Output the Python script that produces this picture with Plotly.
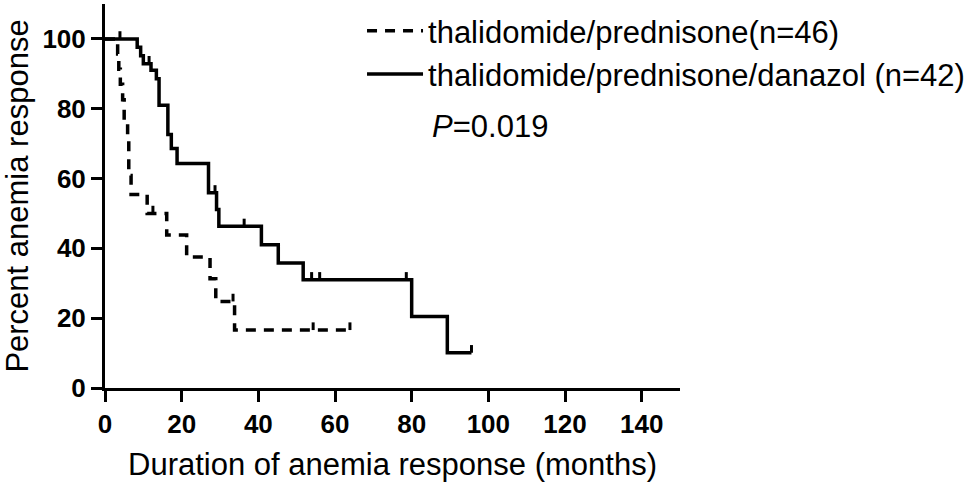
"""
Duration of anemia response (Kaplan-Meier)
==========================================
Thalidomide/prednisone vs thalidomide/prednisone/danazol.
"""

import plotly.graph_objects as go


# thalidomide/prednisone (n=46) - dashed
TP_TIMES = [0, 3.3, 3.6, 4.0, 4.6, 5.0, 5.9, 6.2, 6.8, 11.0, 16.1, 21.3, 27.4, 28.9, 33.8, 63.9]
TP_SURV = [100, 95.7, 91.3, 87.0, 82.6, 76.1, 71.7, 60.9, 55.4, 50.0, 43.8, 37.5, 31.3, 24.8, 16.6, 16.6]
TP_CENSOR = [12.5, 33.4, 54.3, 63.9]

# thalidomide/prednisone/danazol (n=42) - solid
TPD_TIMES = [0, 8.4, 9.3, 10.0, 12.0, 13.4, 14.1, 16.4, 17.3, 18.8, 27.0, 29.1, 29.7,
             40.8, 45.2, 51.7, 80.0, 89.3, 95.6]
TPD_SURV = [100, 97.6, 95.2, 92.9, 91.0, 88.6, 81.0, 72.6, 68.6, 64.3, 55.9, 51.1, 46.3,
            41.0, 35.8, 31.0, 20.5, 10.1, 10.1]
TPD_CENSOR = [3.9, 11.5, 28.7, 36.3, 53.9, 56.0, 78.6, 95.6]

X_TICKS = [0, 20, 40, 60, 80, 100, 120, 140]
Y_TICKS = [0, 20, 40, 60, 80, 100]

FONT = "Liberation Sans"


def surv_at(t, times, surv):
    """Step-function value of the curve at time t."""
    value = surv[0]
    for ti, si in zip(times, surv):
        if ti <= t:
            value = si
    return value


def censor_trace(censor, times, surv):
    """Small upward tick marks at censored observations."""
    levels = [surv_at(t, times, surv) for t in censor]
    return go.Scatter(
        x=censor,
        y=levels,
        mode="markers",
        marker=dict(size=1, opacity=0),
        error_y=dict(
            type="data", symmetric=False,
            array=[2.2] * len(censor), arrayminus=[0] * len(censor),
            width=0, thickness=3, color="black",
        ),
        showlegend=False,
        hoverinfo="skip",
    )


fig = go.Figure()

fig.add_trace(go.Scatter(
    x=TP_TIMES, y=TP_SURV, mode="lines", line_shape="hv",
    line=dict(color="black", width=3.5, dash="10px,8px"),
    name="thalidomide/prednisone(n=46)",
))
fig.add_trace(censor_trace(TP_CENSOR, TP_TIMES, TP_SURV))

fig.add_trace(go.Scatter(
    x=TPD_TIMES, y=TPD_SURV, mode="lines", line_shape="hv",
    line=dict(color="black", width=3.5),
    name="thalidomide/prednisone/danazol (n=42)",
))
fig.add_trace(censor_trace(TPD_CENSOR, TPD_TIMES, TPD_SURV))

axis_common = dict(
    showline=True, linecolor="black", linewidth=3,
    ticks="outside", ticklen=11, tickwidth=3, tickcolor="black",
    showgrid=False, zeroline=False,
    tickfont=dict(family=FONT, size=26, color="black", weight="bold"),
    title_font=dict(family=FONT, size=31, color="black"),
    automargin=False,
)

fig.update_xaxes(
    range=[0, 150], tickvals=X_TICKS,
    title_text="Duration of anemia response (months)", title_standoff=16,
    **axis_common,
)
fig.update_yaxes(
    range=[0, 110], tickvals=Y_TICKS,
    title_text="Percent anemia response", title_standoff=14,
    **axis_common,
)

fig.add_annotation(
    text="<i>P</i>=0.019", xref="paper", yref="paper",
    x=0.565, y=0.68, xanchor="left", yanchor="middle", showarrow=False,
    font=dict(family=FONT, size=31, color="black"),
)

fig.update_layout(
    width=976, height=482,
    margin=dict(l=105, r=296, t=4, b=94),
    plot_bgcolor="white",
    paper_bgcolor="white",
    font=dict(family=FONT, color="black"),
    legend=dict(
        x=0.447, y=1.0, xanchor="left", yanchor="top",
        font=dict(family=FONT, size=31, color="black"),
        itemwidth=56, bgcolor="rgba(0,0,0,0)",
    ),
)

# drop the default page margin so the figure sits at the window's corner
fig.write_html(
    "out.html",
    config={"displayModeBar": False},
    post_script="document.body.style.margin = '0';",
)
